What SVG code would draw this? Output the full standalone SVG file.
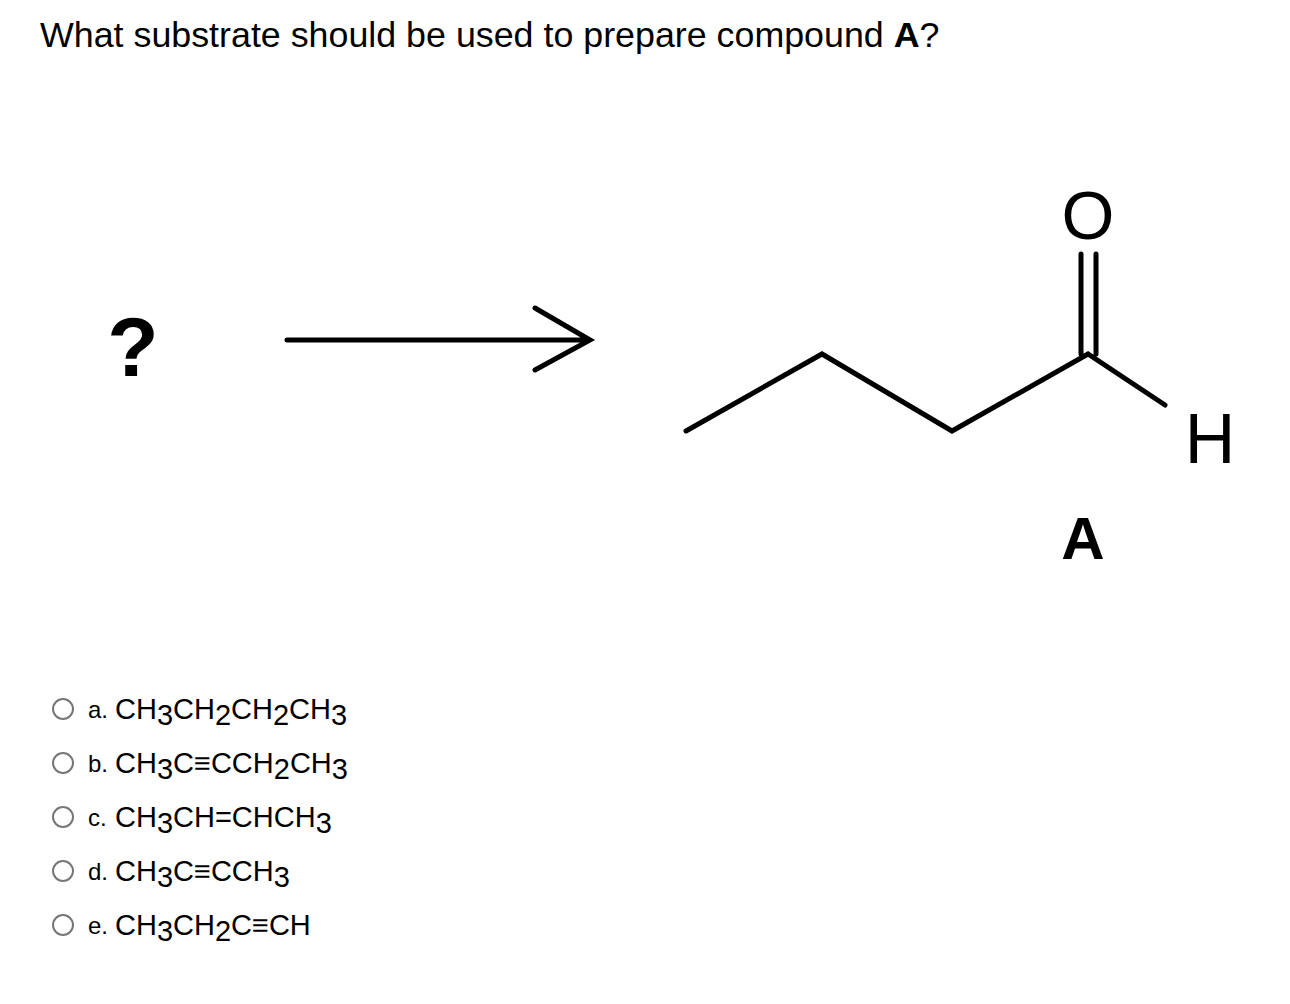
<svg xmlns="http://www.w3.org/2000/svg" width="1290" height="1004" viewBox="0 0 1290 1004">
<style>
.t{font-family:"Liberation Sans",Arial,sans-serif;fill:#000}
.b{stroke:#000;stroke-width:5;fill:none;stroke-linecap:round}
.r{fill:#fff;stroke:#777;stroke-width:2}
.l{font-size:24px}.f{font-size:29px}
</style>
<rect width="1290" height="1004" fill="#fff"/>
<text class="t" x="40" y="47" font-size="35.8">What substrate should be used to prepare compound <tspan font-weight="bold">A</tspan>?</text>
<g id="question"><text class="t" x="133" y="376" font-size="84" font-weight="bold" text-anchor="middle" font-family="DejaVu Sans, sans-serif">?</text></g>
<g id="connectors"><path class="b" d="M287 340H588M535 308L590 340L535 370" stroke-width="4"/></g>
<g id="compoundA">
<path class="b" d="M686 431L822 354L952 431L1088 354L1165 405M1081 354V254M1096 354V254"/>
<text class="t" x="1088" y="239" font-size="68" text-anchor="middle" font-family="DejaVu Sans, sans-serif">O</text>
<text class="t" x="1210" y="463" font-size="70" text-anchor="middle" font-family="DejaVu Sans, sans-serif">H</text>
<text class="t" x="1083" y="559" font-size="60" font-weight="bold" text-anchor="middle" font-family="DejaVu Sans, sans-serif">A</text>
</g>
<g id="options">
<circle class="r" cx="63" cy="709" r="10"/><text class="t l" x="88" y="718">a.</text><text class="t f" x="115" y="719">CH<tspan dy="6">3</tspan><tspan dy="-6">CH</tspan><tspan dy="6">2</tspan><tspan dy="-6">CH</tspan><tspan dy="6">2</tspan><tspan dy="-6">CH</tspan><tspan dy="6">3</tspan></text>
<circle class="r" cx="63" cy="763" r="10"/><text class="t l" x="88" y="772">b.</text><text class="t f" x="115" y="773">CH<tspan dy="6">3</tspan><tspan dy="-6">C≡CCH</tspan><tspan dy="6">2</tspan><tspan dy="-6">CH</tspan><tspan dy="6">3</tspan></text>
<circle class="r" cx="63" cy="817" r="10"/><text class="t l" x="88" y="826">c.</text><text class="t f" x="115" y="827">CH<tspan dy="6">3</tspan><tspan dy="-6">CH=CHCH</tspan><tspan dy="6">3</tspan></text>
<circle class="r" cx="63" cy="871" r="10"/><text class="t l" x="88" y="880">d.</text><text class="t f" x="115" y="881">CH<tspan dy="6">3</tspan><tspan dy="-6">C≡CCH</tspan><tspan dy="6">3</tspan></text>
<circle class="r" cx="63" cy="925" r="10"/><text class="t l" x="88" y="934">e.</text><text class="t f" x="115" y="935">CH<tspan dy="6">3</tspan><tspan dy="-6">CH</tspan><tspan dy="6">2</tspan><tspan dy="-6">C≡CH</tspan></text>
</g>
</svg>
